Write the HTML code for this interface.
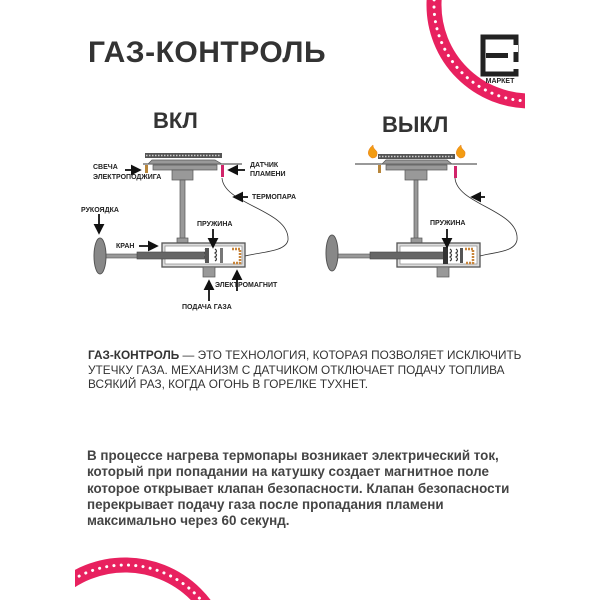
<!DOCTYPE html>
<html><head><meta charset="utf-8"><style>
html,body{margin:0;padding:0;background:#fff;}
body{width:600px;height:600px;position:relative;overflow:hidden;font-family:"Liberation Sans","DejaVu Sans",sans-serif;color:#333;}
.t{position:absolute;white-space:nowrap;}
</style></head><body>
<svg width="600" height="600" style="position:absolute;left:0;top:0" xmlns="http://www.w3.org/2000/svg">
<defs>
<clipPath id="c1"><rect x="0" y="0" width="525" height="600"/></clipPath>
<clipPath id="c2"><rect x="75" y="0" width="525" height="600"/></clipPath>
<marker id="ah" markerWidth="6" markerHeight="6" refX="5" refY="3" orient="auto"><path d="M0,0 L6,3 L0,6 z" fill="#111"/></marker>
</defs>
<g clip-path="url(#c1)">
<circle cx="530" cy="5" r="96" fill="none" stroke="#e8215f" stroke-width="15"/>
<circle cx="530" cy="5" r="96" fill="none" stroke="#fff" stroke-width="3" stroke-dasharray="0.1 7.2" stroke-linecap="round"/>
</g>
<g clip-path="url(#c2)">
<circle cx="125" cy="665" r="100" fill="none" stroke="#e8215f" stroke-width="15"/>
<circle cx="125" cy="665" r="100" fill="none" stroke="#fff" stroke-width="3" stroke-dasharray="0.1 7.2" stroke-linecap="round"/>
</g>
<!-- logo -->
<rect x="483" y="37" width="33" height="37" fill="none" stroke="#222" stroke-width="5"/>
<rect x="490" y="45" width="28" height="7" fill="#fff"/>
<rect x="486" y="53" width="22" height="5" fill="#222"/>
<rect x="494" y="62" width="25" height="7" fill="#fff"/>
<text x="500" y="83" font-size="7" font-weight="bold" text-anchor="middle" fill="#222" font-family="Liberation Sans">МАРКЕТ</text>

<!-- LEFT DIAGRAM -->
<g>
<rect x="145" y="153" width="77" height="5" fill="#555"/>
<line x1="146" y1="155.5" x2="221" y2="155.5" stroke="#ccc" stroke-width="1.5" stroke-dasharray="1.5 1.5"/>
<line x1="143" y1="164" x2="242" y2="164" stroke="#333" stroke-width="1"/>
<path d="M148,164 L152,160 L215,160 L222,164 Z" fill="#999" stroke="#555" stroke-width="0.7"/>
<rect x="153" y="165" width="64" height="5" fill="#999" stroke="#555" stroke-width="0.7"/>
<rect x="172" y="170" width="21" height="10" fill="#999" stroke="#555" stroke-width="0.7"/>
<rect x="180" y="180" width="5" height="59" fill="#999" stroke="#555" stroke-width="0.7"/>
<rect x="177" y="238" width="11" height="9" fill="#999" stroke="#555" stroke-width="0.7"/>
<rect x="145" y="165" width="3" height="8" fill="#b8863b"/>
<rect x="162" y="243" width="83" height="24" fill="#ddd" stroke="#555" stroke-width="1.3"/>
<rect x="165" y="246" width="77" height="18" fill="#fff" stroke="#888" stroke-width="0.7"/>
<rect x="100" y="254" width="40" height="4" fill="#999" stroke="#555" stroke-width="0.6"/>
<rect x="137" y="252" width="70" height="7" fill="#666" stroke="#444" stroke-width="0.6"/>
<ellipse cx="100" cy="256" rx="6" ry="18" fill="#888" stroke="#555"/>
<path d="M205,249 q3,2 0,4 q3,2 0,4 q3,2 0,4 M215,249 q3,2 0,4 q3,2 0,4 q3,2 0,4" stroke="#333" fill="none" stroke-width="1.2"/>
<rect x="205" y="248" width="4" height="15" fill="#555"/>
<rect x="220" y="248" width="3" height="15" fill="#777"/>
<path d="M232,249 h8 v14 h-8" fill="none" stroke="#c8853b" stroke-width="2.5" stroke-dasharray="2 1"/>
<rect x="203" y="267" width="12" height="10" fill="#999" stroke="#555" stroke-width="0.7"/>
<rect x="221" y="165" width="3" height="12" fill="#d1246a"/>
<path d="M222,178 C224,205 290,210 288,240 C286,252 260,252 245,256" fill="none" stroke="#333" stroke-width="0.8"/>
<g stroke="#111" stroke-width="1.8" marker-end="url(#ah)">
<line x1="125" y1="170" x2="140" y2="170"/>
<line x1="245" y1="170" x2="229" y2="170"/>
<line x1="248" y1="197" x2="234" y2="197"/>
<line x1="99" y1="214" x2="99" y2="233"/>
<line x1="139" y1="246" x2="157" y2="246"/>
<line x1="213" y1="229" x2="213" y2="247"/>
<line x1="237" y1="291" x2="237" y2="271"/>
<line x1="209" y1="301" x2="209" y2="281"/>
</g>
</g>
<g font-family="Liberation Sans" font-size="7" font-weight="bold" fill="#222">
<text x="93" y="169">СВЕЧА</text><text x="93" y="179">ЭЛЕКТРОПОДЖИГА</text>
<text x="250" y="167">ДАТЧИК</text><text x="250" y="176">ПЛАМЕНИ</text>
<text x="252" y="199">ТЕРМОПАРА</text>
<text x="81" y="212">РУКОЯДКА</text>
<text x="116" y="248">КРАН</text>
<text x="197" y="226">ПРУЖИНА</text>
<text x="215" y="287">ЭЛЕКТРОМАГНИТ</text>
<text x="182" y="309">ПОДАЧА ГАЗА</text>
<text x="430" y="225">ПРУЖИНА</text>
</g>

<!-- RIGHT DIAGRAM -->
<g>
<rect x="378" y="154" width="77" height="5" fill="#555"/>
<line x1="379" y1="156.5" x2="454" y2="156.5" stroke="#ccc" stroke-width="1.5" stroke-dasharray="1.5 1.5"/>
<path d="M372,158 c-6,-3 -4,-9 1,-13 c0,5 5,5 4,9 c0,3 -2,4 -5,4z" fill="#f39c12" stroke="#e67e22" stroke-width="0.5"/>
<path d="M460,158 c-6,-3 -4,-9 1,-13 c0,5 5,5 4,9 c0,3 -2,4 -5,4z" fill="#f39c12" stroke="#e67e22" stroke-width="0.5"/>
<line x1="355" y1="164" x2="477" y2="164" stroke="#333" stroke-width="1"/>
<path d="M382,164 L386,160 L447,160 L452,164 Z" fill="#999" stroke="#555" stroke-width="0.7"/>
<rect x="386" y="165" width="61" height="5" fill="#999" stroke="#555" stroke-width="0.7"/>
<rect x="405" y="170" width="22" height="10" fill="#999" stroke="#555" stroke-width="0.7"/>
<rect x="414" y="180" width="4" height="59" fill="#999" stroke="#555" stroke-width="0.7"/>
<rect x="411" y="238" width="11" height="9" fill="#999" stroke="#555" stroke-width="0.7"/>
<rect x="378" y="165" width="3" height="8" fill="#b8863b"/>
<rect x="397" y="243" width="83" height="24" fill="#ddd" stroke="#555" stroke-width="1.3"/>
<rect x="400" y="246" width="77" height="18" fill="#fff" stroke="#888" stroke-width="0.7"/>
<rect x="337" y="254" width="40" height="4" fill="#999" stroke="#555" stroke-width="0.6"/>
<rect x="370" y="252" width="76" height="7" fill="#666" stroke="#444" stroke-width="0.6"/>
<ellipse cx="332" cy="253" rx="6" ry="18" fill="#888" stroke="#555"/>
<rect x="443" y="247" width="5" height="17" fill="#333"/>
<path d="M450,249 q3,2 0,4 q3,2 0,4 q3,2 0,4 M456,249 q3,2 0,4 q3,2 0,4 q3,2 0,4" stroke="#333" fill="none" stroke-width="1.2"/>
<rect x="460" y="248" width="3" height="15" fill="#555"/>
<path d="M465,249 h8 v14 h-8" fill="none" stroke="#c8853b" stroke-width="2.5" stroke-dasharray="2 1"/>
<rect x="437" y="267" width="12" height="10" fill="#999" stroke="#555" stroke-width="0.7"/>
<rect x="454" y="166" width="3" height="12" fill="#d1246a"/>
<path d="M455,178 C457,205 520,210 517,240 C515,252 495,252 480,256" fill="none" stroke="#333" stroke-width="0.8"/>
<g stroke="#111" stroke-width="1.8" marker-end="url(#ah)">
<line x1="485" y1="197" x2="472" y2="197"/>
<line x1="447" y1="229" x2="447" y2="247"/>
</g>
</g>
</svg>

<div class="t" style="left:88px;top:36px;font-size:30px;font-weight:bold;color:#333;letter-spacing:0.5px">ГАЗ-КОНТРОЛЬ</div>
<div class="t" style="left:153px;top:108px;font-size:22px;font-weight:bold;color:#333">ВКЛ</div>
<div class="t" style="left:382px;top:112px;font-size:22px;font-weight:bold;color:#333">ВЫКЛ</div>
<div class="t" style="left:88px;top:348px;font-size:11.8px;line-height:14.5px;color:#333"><b>ГАЗ-КОНТРОЛЬ</b> — ЭТО ТЕХНОЛОГИЯ, КОТОРАЯ ПОЗВОЛЯЕТ ИСКЛЮЧИТЬ<br>УТЕЧКУ ГАЗА. МЕХАНИЗМ С ДАТЧИКОМ ОТКЛЮЧАЕТ ПОДАЧУ ТОПЛИВА<br>ВСЯКИЙ РАЗ, КОГДА ОГОНЬ В ГОРЕЛКЕ ТУХНЕТ.</div>
<div class="t" style="left:87px;top:448px;font-size:13.4px;line-height:16.3px;font-weight:bold;color:#444">В процессе нагрева термопары возникает электрический ток,<br>который при попадании на катушку создает магнитное поле<br>которое открывает клапан безопасности. Клапан безопасности<br>перекрывает подачу газа после пропадания пламени<br>максимально через 60 секунд.</div>
</body></html>
